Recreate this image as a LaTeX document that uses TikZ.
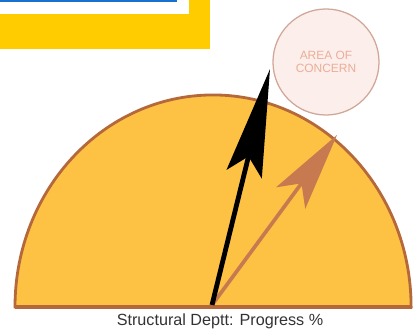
\documentclass[tikz,border=0pt]{standalone}
\usepackage{fontspec}
\setmainfont{Liberation Sans}
\usetikzlibrary{arrows.meta}
\definecolor{boxyellow}{HTML}{FFCC00}
\definecolor{boxblue}{HTML}{1A6FD0}
\definecolor{semifill}{HTML}{FDC144}
\definecolor{semiedge}{HTML}{B5683A}
\definecolor{progbrown}{HTML}{C77A50}
\definecolor{concernfill}{HTML}{FCEEEB}
\definecolor{concernedge}{HTML}{CFA899}
\definecolor{concerntext}{HTML}{EBAE98}
\definecolor{captiongray}{HTML}{333333}
\begin{document}
\begin{tikzpicture}[x = 0.025cm, y = -0.025cm, concern/.style={circle, draw=concernedge, fill=concernfill, line width=0.9pt, minimum size=2.65cm, inner sep=0pt, align=center, font=\fontsize{8.5}{9.5}\selectfont, text=concerntext}, arrowtip/.style={-{Stealth[length=#1, width=0.9cm, inset=0.45cm]}}]
        \useasboundingbox (0, 0) rectangle (415, 334);

        \fill[boxyellow] (0, 0) rectangle (210, 49);
        \fill[white] (0, 0) rectangle (189, 14);
        \draw[boxblue, line width=1.5pt] (0, 1) -- (177, 1);

        \filldraw[fill=semifill, draw=semiedge, line width=2pt] (15, 307) arc[start angle=180, end angle=0, x radius=4.95cm, y radius=5.3cm] -- cycle;
        \draw[semiedge, line width=2.8pt] (15, 307) -- (412, 307);

        \node[concern] at (326, 62) (concern){AREA OF\\CONCERN};

        \coordinate (base) at (212, 305);
        \coordinate (blacktip) at (270, 69);
        \coordinate (browntip) at (337, 135);

        \draw[progbrown, line width=2.6pt, arrowtip=1.95cm] (base) -- (browntip);
        \draw[black, line width=3.4pt, arrowtip=2.7cm] (base) -- (blacktip);

        \node[text=captiongray, font=\fontsize{11.5}{13}\selectfont] at (220, 321) (caption){Structural Deptt: Progress \%};
        \end{tikzpicture}
\end{document}
